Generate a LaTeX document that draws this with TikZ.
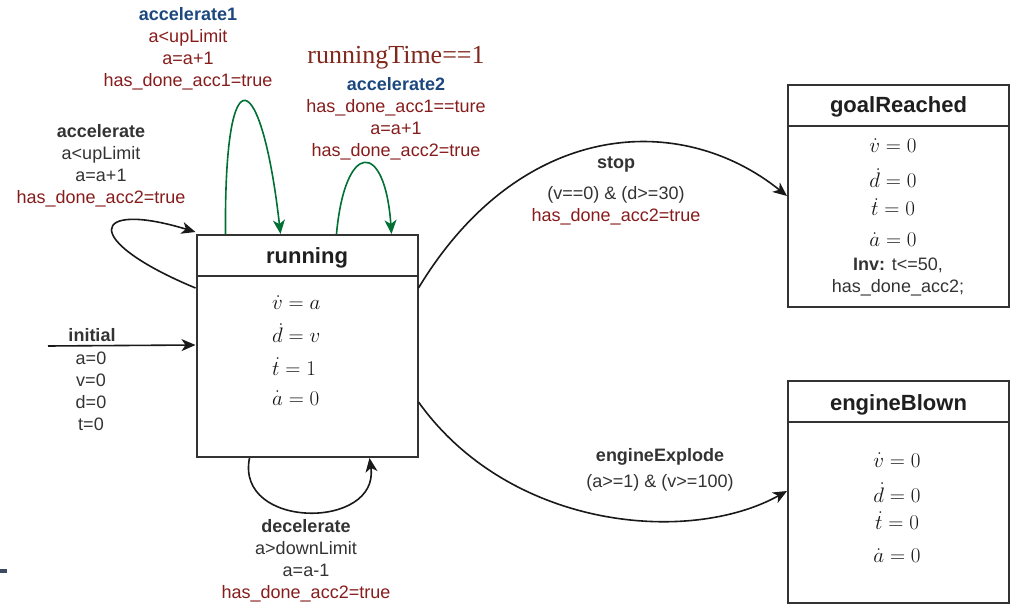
\RequirePackage{fix-cm}
\documentclass[tikz,border=0pt]{standalone}
\usepackage[no-math]{fontspec}
\setmainfont{Liberation Sans}
\newfontfamily\timesfont{Liberation Serif}
\usetikzlibrary{arrows.meta,calc}

\definecolor{guardred}{RGB}{135,28,28}
\definecolor{evblue}{RGB}{28,72,125}
\definecolor{loopgreen}{RGB}{0,112,52}
\definecolor{ink}{RGB}{51,51,51}
\definecolor{timered}{RGB}{128,40,28}
\definecolor{slate}{RGB}{60,75,95}

\begin{document}
\begin{tikzpicture}[x=1pt,y=-1pt,
  statebox/.style={draw=ink, line width=2pt, minimum width=221pt, minimum height=222pt, inner sep=0pt},
  divider/.style={draw=ink, line width=2pt},
  statetitle/.style={font=\fontsize{22}{26}\selectfont\bfseries, text=black!88},
  eqn/.style={font=\fontsize{21}{25}\selectfont, text=black!92, inner sep=0pt},
  lbl/.style={font=\fontsize{18}{22}\selectfont, align=center, text=ink, inner sep=0pt},
  arrowtip/.style={-{Stealth[length=14pt,width=12pt,inset=4pt]}},
  trans/.style={arrowtip, line width=1.6pt, draw=black!90},
  gtrans/.style={arrowtip, line width=1.6pt, draw=loopgreen}
]
\useasboundingbox (0,0) rectangle (1013,604);

% ---------- states ----------
\node[statebox] (run) at (307,346) {};
\draw[divider] ($(run.north west)+(0,42)$) -- ($(run.north east)+(0,42)$);
\node[statetitle] (runT) at (307,258) {running};
\node[eqn, anchor=base west] (runV) at (272,310) {$\dot{v} = a$};
\node[eqn, anchor=base west] (runD) at (272,343) {$\dot{d} = v$};
\node[eqn, anchor=base west] (runTt) at (272,375) {$\dot{t} = 1$};
\node[eqn, anchor=base west] (runA) at (272,405) {$\dot{a} = 0$};

\node[statebox] (goal) at (898.5,196) {};
\draw[divider] ($(goal.north west)+(0,42)$) -- ($(goal.north east)+(0,42)$);
\node[statetitle] (goalT) at (898.5,107) {goalReached};
\node[eqn, anchor=base] (goalV) at (893,153) {$\dot{v} = 0$};
\node[eqn, anchor=base] (goalD) at (893,188) {$\dot{d} = 0$};
\node[eqn, anchor=base] (goalTt) at (893,216) {$\dot{t} = 0$};
\node[eqn, anchor=base] (goalA) at (893,247) {$\dot{a} = 0$};
\node[lbl] (goalInv) at (898,277) {\textbf{Inv:} t<=50,\\has\_done\_acc2;};

\node[statebox] (blown) at (898.5,492) {};
\draw[divider] ($(blown.north west)+(0,42)$) -- ($(blown.north east)+(0,42)$);
\node[statetitle] (blownT) at (898.5,405) {engineBlown};
\node[eqn, anchor=base] (blownV) at (897,467) {$\dot{v} = 0$};
\node[eqn, anchor=base] (blownD) at (897,502) {$\dot{d} = 0$};
\node[eqn, anchor=base] (blownTt) at (897,529) {$\dot{t} = 0$};
\node[eqn, anchor=base] (blownA) at (897,562) {$\dot{a} = 0$};

% ---------- attachment points ----------
\coordinate (runE1) at ($(run.north east)+(0,54)$);
\coordinate (runE2) at ($(run.north east)+(0,168)$);
\coordinate (runW1) at ($(run.north west)+(0,54)$);
\coordinate (runW0) at ($(run.north west)+(0,-2)$);
\coordinate (runWi) at ($(run.north west)+(0,111)$);
\coordinate (runN1) at ($(run.north west)+(30,0)$);
\coordinate (runN2) at ($(run.north west)+(85,0)$);
\coordinate (runN3) at ($(run.north west)+(141,0)$);
\coordinate (runN4) at ($(run.north west)+(196,0)$);
\coordinate (runS1) at ($(run.south west)+(54,0)$);
\coordinate (runS2) at ($(run.south west)+(174,0)$);
\coordinate (goalW) at ($(goal.north west)+(0,112)$);
\coordinate (blownW) at ($(blown.north west)+(0,111)$);
\coordinate (initStart) at (48,346);

% ---------- transitions ----------
\draw[trans] (initStart) -- (runWi);
\draw[trans] (runE1) .. controls (520,120) and (680,110) .. (goalW);
\draw[trans] (runE2) .. controls (510,530) and (690,545) .. (blownW);
\draw[trans] (runW1) .. controls (80,240) and (90,200) .. (runW0);
\draw[trans] (runS1) .. controls (235,530) and (380,530) .. (runS2);
\draw[gtrans] (runN1) .. controls (224,45) and (262,70) .. (runN2);
\draw[gtrans] (runN3) .. controls (345,140) and (385,140) .. (runN4);

% ---------- labels ----------
\node[lbl] (accLbl) at (101,165.5) {\textbf{accelerate}\\a<upLimit\\a=a+1\\\textcolor{guardred}{has\_done\_acc2=true}};
\node[lbl, text=guardred] (acc1Lbl) at (188,49) {\textcolor{evblue}{\textbf{accelerate1}}\\a<upLimit\\a=a+1\\has\_done\_acc1=true};
\node[font=\timesfont\fontsize{26}{30}\selectfont, text=timered, inner sep=0pt] (rtime) at (396,58) {runningTime==1};
\node[lbl, text=guardred] (acc2Lbl) at (396,118.5) {\textcolor{evblue}{\textbf{accelerate2}}\\has\_done\_acc1==ture\\a=a+1\\has\_done\_acc2=true};
\node[lbl] (initLbl) at (92,335) {\textbf{initial}};
\node[lbl] (initVals) at (91,391) {a=0\\v=0\\d=0\\t=0};
\node[lbl] (decLbl) at (306,561) {\textbf{decelerate}\\a>downLimit\\a=a-1\\\textcolor{guardred}{has\_done\_acc2=true}};
\node[lbl] (stopLbl) at (616,191) {\textbf{stop}\\[9pt](v==0) \& (d>=30)\\\textcolor{guardred}{has\_done\_acc2=true}};
\node[lbl] (explLbl) at (660,470) {\textbf{engineExplode}\\[4pt](a>=1) \& (v>=100)};

% stray mark at the left margin
\fill[slate] (0,569) rectangle (7,573);
\end{tikzpicture}
\end{document}
